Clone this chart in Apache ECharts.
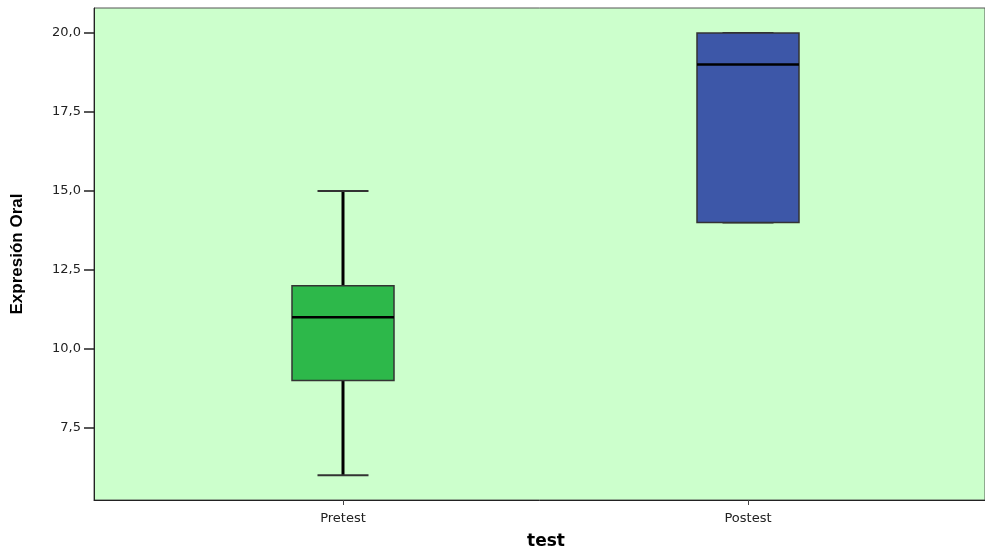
<!DOCTYPE html>
<html>
<head>
<meta charset="utf-8">
<script src="https://cdn.jsdelivr.net/npm/echarts@6/dist/echarts.min.js"></script>
<style>html,body{margin:0;padding:0;background:#fff}#c{width:985px;height:552px}</style>
</head>
<body>
<div id="c"></div>
<script>
const categories = ['Pretest', 'Postest'];
const whiskerLow = [6, 14];
const q1 = [9, 14];
const median = [11, 19];
const q3 = [12, 20];
const whiskerHigh = [15, 20];
const boxColors = ['#2DB84A', '#3D57A8'];
const yTicks = [7.5, 10, 12.5, 15, 17.5, 20];
const yMin = 5.22, yMax = 20.79;

const data = categories.map((c, i) => [i, whiskerLow[i], q1[i], median[i], q3[i], whiskerHigh[i]]);

const chart = echarts.init(document.getElementById('c'));
const fmt = v => v.toFixed(1).replace('.', ',');

chart.setOption({
  animation: false,
  grid: [
    {left: 94, right: -3, top: 8, bottom: 52, show: true, backgroundColor: '#CCFFCC', borderColor: '#555', borderWidth: 1},
    {left: 140.5, right: 34.5, top: 8, bottom: 52, show: false}
  ],
  xAxis: [
    {gridIndex: 0, type: 'value', min: 0, max: 1, axisLine: {show: true, onZero: false, lineStyle: {color: '#222', width: 1}},
     axisTick: {show: false}, axisLabel: {show: false}, splitLine: {show: false}},
    {gridIndex: 1, type: 'category', data: categories, boundaryGap: true,
     axisLine: {show: false},
     axisTick: {show: true, alignWithLabel: true, length: 5, lineStyle: {color: '#444'}},
     axisLabel: {margin: 12, color: '#222', fontFamily: 'DejaVu Sans', fontSize: 13},
     splitLine: {show: false}}
  ],
  yAxis: [
    {gridIndex: 0, type: 'value', min: yMin, max: yMax,
     name: 'Expresión Oral', nameLocation: 'middle', nameGap: 68,
     nameTextStyle: {fontFamily: 'Liberation Sans', fontWeight: 'bold', fontSize: 17, color: '#000'},
     axisLine: {show: true, lineStyle: {color: '#222', width: 1}},
     axisTick: {show: true, length: 10, customValues: yTicks, lineStyle: {color: '#222', width: 1.5}},
     axisLabel: {customValues: yTicks, formatter: fmt, margin: 13, color: '#222', fontFamily: 'DejaVu Sans', fontSize: 13},
     splitLine: {show: false}},
    {gridIndex: 1, type: 'value', min: yMin, max: yMax, show: false, splitLine: {show: false}}
  ],
  graphic: [
    {type: 'text', left: 546 - 19, top: 533, style: {text: 'test', fontFamily: 'DejaVu Sans', fontWeight: 'bold', fontSize: 17, fill: '#000'}}
  ],
  series: [{
    type: 'custom',
    xAxisIndex: 1, yAxisIndex: 1,
    data: data,
    renderItem: function (params, api) {
      const i = api.value(0);
      const x = api.coord([i, median[i]])[0];
      const yLo = api.coord([i, api.value(1)])[1];
      const yQ1 = api.coord([i, api.value(2)])[1];
      const yMed = api.coord([i, api.value(3)])[1];
      const yQ3 = api.coord([i, api.value(4)])[1];
      const yHi = api.coord([i, api.value(5)])[1];
      const bw = 102, cw = 51;
      return {
        type: 'group',
        children: [
          {type: 'line', shape: {x1: x, y1: yHi, x2: x, y2: yQ3}, style: {stroke: '#000', lineWidth: 3}},
          {type: 'line', shape: {x1: x, y1: yQ1, x2: x, y2: yLo}, style: {stroke: '#000', lineWidth: 3}},
          {type: 'line', shape: {x1: x - cw / 2, y1: yHi, x2: x + cw / 2, y2: yHi}, style: {stroke: '#333', lineWidth: 2}},
          {type: 'line', shape: {x1: x - cw / 2, y1: yLo, x2: x + cw / 2, y2: yLo}, style: {stroke: '#333', lineWidth: 2}},
          {type: 'rect', shape: {x: x - bw / 2, y: yQ3, width: bw, height: yQ1 - yQ3}, style: {fill: boxColors[i], stroke: '#333', lineWidth: 1.5}},
          {type: 'line', shape: {x1: x - bw / 2, y1: yMed, x2: x + bw / 2, y2: yMed}, style: {stroke: '#000', lineWidth: 2.5}}
        ]
      };
    }
  }]
});
</script>
</body>
</html>
